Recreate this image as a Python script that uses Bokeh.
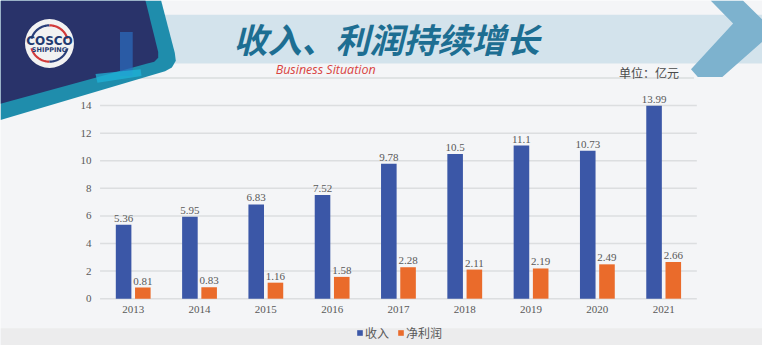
import numpy as np
from bokeh.plotting import figure
from bokeh.models import Range1d, Legend, LegendItem, ColumnDataSource
from bokeh.transform import dodge
from bokeh.core.properties import value
from bokeh.embed import file_html
from bokeh.resources import INLINE

# ---------------- data ----------------
years = ["2013", "2014", "2015", "2016", "2017", "2018", "2019", "2020", "2021"]
revenue = [5.36, 5.95, 6.83, 7.52, 9.78, 10.5, 11.1, 10.73, 13.99]
profit = [0.81, 0.83, 1.16, 1.58, 2.28, 2.11, 2.19, 2.49, 2.66]
y_ticks = [0, 2, 4, 6, 8, 10, 12, 14]
series_names = ["收入", "净利润"]
title_text = "收入、利润持续增长"
subtitle_text = "Business Situation"
unit_text = "单位：亿元"
logo_top = "COSCO"
logo_bottom = "SHIPPING"

# ---------------- layout (reference pixel space) ----------------
W, H = 762, 345
REF_W, REF_H = 778, 361
Y0, Y14 = 312.0, 110.0          # pixel rows of value 0 and value 14
ppu = (Y0 - Y14) / 14.0
X_FIRST, STEP = 135.5, 67.7      # pixel column of first category, spacing
OFF, BW = 0.145, 0.235

BLUE = "#3b57a7"
ORANGE = "#ea6b2b"
TXT = "#595959"
SERIF = value("Liberation Serif")
CJK = value("Noto Sans CJK SC")

p = figure(width=W, height=H, x_range=Range1d(0, REF_W), y_range=Range1d(REF_H, 0),
           output_backend="svg", toolbar_location=None, min_border=0,
           x_axis_location=None, y_axis_location=None)
p.grid.visible = False
p.outline_line_color = None
p.background_fill_color = "#f4f5f7"
p.border_fill_color = "#f4f5f7"

v_bottom = -(REF_H - Y0) / ppu
p.extra_y_ranges = {"v": Range1d(v_bottom, v_bottom + REF_H / ppu)}
p.extra_x_ranges = {"i": Range1d(-X_FIRST / STEP, (REF_W - X_FIRST) / STEP)}

# ---------------- decorations ----------------
# bottom legend band
p.quad(left=0, right=REF_W, top=343, bottom=REF_H, fill_color="#ececed", line_color=None)
# header banner
p.quad(left=160, right=REF_W, top=15, bottom=66, fill_color="#d3e3ec", line_color=None)
# thin separator line
p.segment(x0=100, y0=81, x1=708, y1=81, line_color="#dadcde", line_width=1.5)
# right chevron
p.patch(x=[725, 758, 790, 737, 712, 705, 748], y=[0, 0, 32, 80, 80, 72, 24],
        fill_color="#7db2ce", line_color=None)
# top-left corner shape: teal border and navy inner
p.patch(x=[0, 164, 178, 179, 175, 168, 0], y=[0, 0, 55, 63, 70, 74, 125],
        fill_color="#1f8dac", line_color=None)
p.patch(x=[0, 148, 161, 161, 157, 150, 0], y=[0, 0, 54, 60, 64, 66, 108],
        fill_color="#29336a", line_color=None)
# accent L
p.quad(left=122, right=135, top=33, bottom=79, fill_color="#2b6cbf", fill_alpha=0.7, line_color=None)
p.patch(x=[97, 143, 144, 99], y=[77, 72, 79, 86], fill_color="#1fb3d8", fill_alpha=0.75, line_color=None)
# logo
p.circle(x=50, y=45, radius=25, fill_color="#f2f2f2", line_color=None)
cx, cy, r = 50, 45, 19
for a0, a1, col in [(90, 165, "#2a3f7a"), (15, 90, "#d23a3a"),
                    (195, 270, "#d23a3a"), (270, 345, "#2a3f7a")]:
    th = np.radians(np.linspace(a0, a1, 30))
    p.line(x=cx + r * np.cos(th), y=cy - r * np.sin(th), line_color=col, line_width=2.2)
p.text(x=[50], y=[42], text=[logo_top], text_font=value("DejaVu Sans"), text_font_size="12px",
       text_font_style="bold", text_color="#1f3a70", text_align="center", text_baseline="middle")
p.text(x=[50], y=[51.5], text=[logo_bottom], text_font=value("DejaVu Sans"), text_font_size="6.5px",
       text_font_style="bold", text_color="#1f3a70", text_align="center", text_baseline="middle")

# titles
p.text(x=[394], y=[40], text=[title_text], text_font=CJK, text_font_size="34px",
       text_font_style="bold italic", text_color="#1d6e92", text_align="center", text_baseline="middle")
p.text(x=[332], y=[72], text=[subtitle_text], text_font=value("Open Sans"), text_font_size="12.5px",
       text_font_style="italic", text_color="#d9443f", text_align="center", text_baseline="middle")
p.text(x=[662], y=[75], text=[unit_text], text_font=CJK, text_font_size="12px",
       text_color="#4a4a4a", text_align="center", text_baseline="middle")

# ---------------- chart ----------------
idx = list(range(len(years)))
src = ColumnDataSource(dict(idx=idx, year=years, rev=revenue, pro=profit,
                            rev_lbl=[f"{v:g}" for v in revenue],
                            pro_lbl=[f"{v:g}" for v in profit]))

# gridlines
p.segment(x0=-0.5, x1=len(years) - 0.5, y0=y_ticks, y1=y_ticks,
          x_range_name="i", y_range_name="v", line_color="#dcdee0", line_width=1.5)
# y tick labels
p.text(x=93, y=y_ticks, text=[str(t) for t in y_ticks], y_range_name="v",
       text_font=SERIF, text_font_size="11px", text_color=TXT,
       text_align="right", text_baseline="middle")
# x labels
p.text(x="idx", y=323, text="year", source=src, x_range_name="i",
       text_font=SERIF, text_font_size="11px", text_color=TXT,
       text_align="center", text_baseline="middle")

r1 = p.vbar(x=dodge("idx", -OFF), top="rev", bottom=0, width=BW, source=src,
            x_range_name="i", y_range_name="v", fill_color=BLUE, line_color=None)
r2 = p.vbar(x=dodge("idx", OFF), top="pro", bottom=0, width=BW, source=src,
            x_range_name="i", y_range_name="v", fill_color=ORANGE, line_color=None)

p.text(x=dodge("idx", -OFF), y="rev", text="rev_lbl", source=src, x_range_name="i", y_range_name="v",
       text_font=SERIF, text_font_size="11px", text_color=TXT,
       text_align="center", text_baseline="bottom", y_offset=-3)
p.text(x=dodge("idx", OFF), y="pro", text="pro_lbl", source=src, x_range_name="i", y_range_name="v",
       text_font=SERIF, text_font_size="11px", text_color=TXT,
       text_align="center", text_baseline="bottom", y_offset=-3)

legend = Legend(items=[LegendItem(label=series_names[0], renderers=[r1]),
                       LegendItem(label=series_names[1], renderers=[r2])],
                orientation="horizontal", location=(356, 4),
                glyph_width=7, glyph_height=7, label_standoff=2, spacing=8,
                padding=0, margin=0, label_height=12,
                label_text_font="Noto Sans CJK SC", label_text_font_size="12px", label_text_color=TXT,
                background_fill_alpha=0, border_line_alpha=0)
p.add_layout(legend)

open("out.html", "w").write(file_html(p, INLINE))
